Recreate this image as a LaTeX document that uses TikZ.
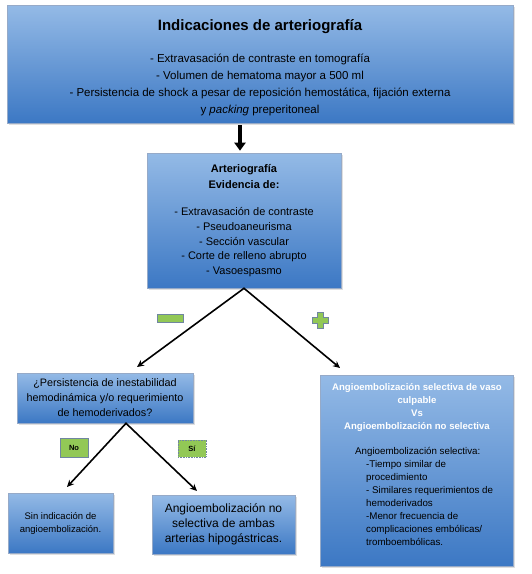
\documentclass[tikz,border=0pt]{standalone}
\usepackage{fontspec}
\setmainfont{Liberation Sans}
\usetikzlibrary{arrows.meta,shadows,calc}
\definecolor{azulclaro}{RGB}{148,186,230}
\definecolor{azulosc}{RGB}{60,120,196}
\definecolor{borde}{RGB}{150,170,200}
\definecolor{verde}{RGB}{146,200,86}
\definecolor{bordeverde}{RGB}{112,134,160}
\tikzset{
  caja/.style={draw=borde, line width=0.6pt, top color=azulclaro, bottom color=azulosc,
    drop shadow={shadow xshift=1.5pt, shadow yshift=-1.5pt, opacity=0.25},
    align=center, inner sep=0pt},
  flechas/.style={line width=1.6pt, line join=miter, {Stealth[length=7pt,width=6.5pt]}-{Stealth[length=7pt,width=6.5pt]}},
  gruesa/.style={line width=4.5pt, -{Triangle[length=8pt,width=11pt]}},
  etiq/.style={draw=bordeverde, fill=verde, line width=0.6pt, inner sep=0pt,
    font=\fontsize{7.5}{9}\selectfont\bfseries},
  signo/.style={draw=bordeverde, fill=verde, line width=0.6pt}
}
\begin{document}
\begin{tikzpicture}[x=1pt,y=-1pt]
  \useasboundingbox (0,0) rectangle (532,574);
  \def\pa{2.8} \def\pb{8}
  \node[caja, minimum width=506pt, minimum height=118pt, font=\fontsize{11.5}{17}\selectfont] (ind) at (260,64)
    {{\fontsize{15}{18}\selectfont\bfseries\rule{0pt}{19pt}Indicaciones de arteriografía}\\[15pt]
     - Extravasación de contraste en tomografía\\
     - Volumen de hematoma mayor a 500 ml\\
     - Persistencia de shock a pesar de reposición hemostática, fijación externa\\
     y \textit{packing} preperitoneal};
  \node[caja, minimum width=194pt, minimum height=135pt, font=\fontsize{11}{14.6}\selectfont] (arte) at (244,220.5)
    {\textbf{Arteriografía}\\[1.4pt]\textbf{Evidencia de:}\\[13pt]
     - Extravasación de contraste\\- Pseudoaneurisma\\- Sección vascular\\
     - Corte de relleno abrupto\\- Vasoespasmo};
  \node[caja, minimum width=176pt, minimum height=50pt, font=\fontsize{10.8}{15}\selectfont] (preg) at (105,398)
    {¿Persistencia de inestabilidad\\hemodinámica y/o requerimiento\\de hemoderivados?};
  \node[caja, minimum width=193pt, minimum height=191pt] (der) at (417,470.5) {};
  \node[align=center, inner sep=0pt, text=white, font=\fontsize{9.6}{13}\selectfont\bfseries] (dertit) at (417,407.5)
    {Angioembolización selectiva de vaso\\culpable\\Vs\\Angioembolización no selectiva};
  \node[anchor=west, align=left, inner sep=0pt, font=\fontsize{9.75}{13}\selectfont] (derlista) at (366,496)
    {\hspace*{-11pt}Angioembolización selectiva:\\-Tiempo similar de\\procedimiento\\
     - Similares requerimientos de\\hemoderivados\\-Menor frecuencia de\\
     complicaciones embólicas/\\tromboembólicas.};
  \node[caja, minimum width=105pt, minimum height=60pt, font=\fontsize{9.5}{13}\selectfont] (sin) at (60.5,523)
    {Sin indicación de\\angioembolización.};
  \node[caja, minimum width=143pt, minimum height=59pt, font=\fontsize{12}{15}\selectfont] (noselec) at (223.5,524.5)
    {Angioembolización no\\selectiva de ambas\\arterias hipogástricas.};
  \node[etiq, minimum width=28pt, minimum height=19pt] (no) at (74,447.5) {No};
  \node[etiq, densely dotted, minimum width=28pt, minimum height=17pt] (si) at (192,448.5) {Sí};
  \coordinate (pmenos) at (137,367);
  \coordinate (pmas) at (340,368);
  \coordinate (pvert) at ($(preg.south)+(21,0)$);
  \coordinate (pno) at (67,487);
  \coordinate (psi) at (197,491);
  \draw[gruesa, shorten <=2pt, shorten >=2pt] ($(arte.north |- ind.south)+(-4,0)$) -- ($(arte.north)+(-4,0)$);
  \draw[flechas] (pmenos) -- (arte.south) -- (pmas);
  \draw[flechas] (pno) -- (pvert) -- (psi);
  \draw[signo] (157,314) rectangle (183,322);
  \draw[signo] (320-\pa,320-\pb) -- (320+\pa,320-\pb) -- (320+\pa,320-\pa) -- (320+\pb,320-\pa)
    -- (320+\pb,320+\pa) -- (320+\pa,320+\pa) -- (320+\pa,320+\pb) -- (320-\pa,320+\pb)
    -- (320-\pa,320+\pa) -- (320-\pb,320+\pa) -- (320-\pb,320-\pa) -- (320-\pa,320-\pa) -- cycle;
\end{tikzpicture}
\end{document}
